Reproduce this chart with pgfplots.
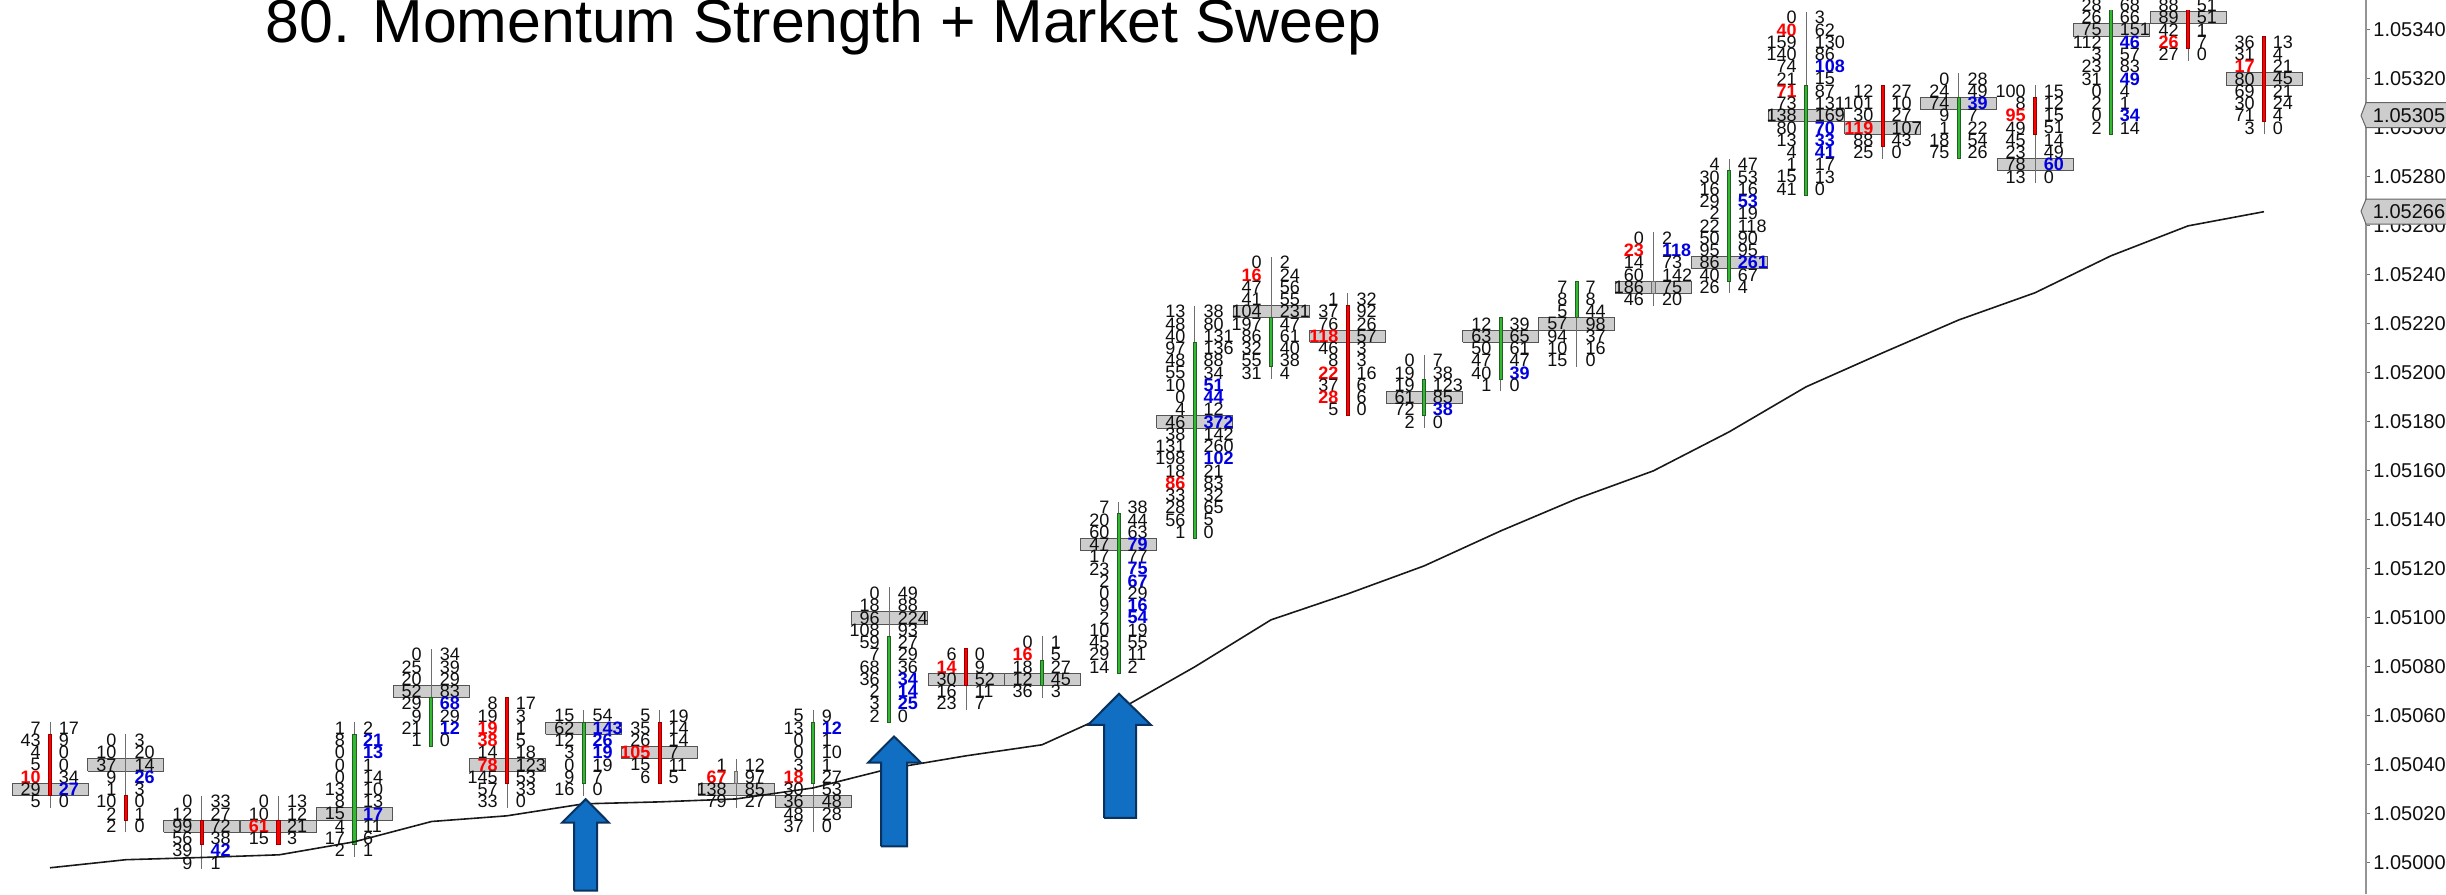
\documentclass[border=0pt]{standalone}
\usepackage{fontspec}
\setmainfont{Liberation Sans}
\usepackage{pgfplots}
\usepackage{pgfplotstable}
\pgfplotsset{compat=1.18}
\definecolor{cgrn}{RGB}{50,185,50}
\definecolor{cgrnb}{RGB}{35,95,35}
\definecolor{cred}{RGB}{255,0,0}
\definecolor{credb}{RGB}{150,0,0}
\definecolor{cdoj}{RGB}{190,190,190}
\definecolor{cdojb}{RGB}{110,110,110}
\definecolor{cpoc}{RGB}{205,205,205}
\definecolor{cpocb}{RGB}{85,85,85}
\definecolor{cwick}{RGB}{110,110,110}
\definecolor{carrow}{RGB}{16,110,195}
\definecolor{carrowb}{RGB}{10,50,95}
\definecolor{ctxt}{RGB}{15,15,15}
\protected\def\R#1{\textcolor{red}{\bfseries #1}}
\protected\def\B#1{\textcolor[RGB]{0,0,225}{\bfseries #1}}
\pgfplotstableread{
x y l r
50 1.05055 7 17
50 1.05050 43 9
50 1.05045 4 0
50 1.05040 5 0
50 1.05035 \R{10} 34
50 1.05030 29 \B{27}
50 1.05025 5 0
125.7 1.05050 0 3
125.7 1.05045 10 20
125.7 1.05040 37 14
125.7 1.05035 9 \B{26}
125.7 1.05030 1 3
125.7 1.05025 10 0
125.7 1.05020 2 1
125.7 1.05015 2 0
201.7 1.05025 0 33
201.7 1.05020 12 27
201.7 1.05015 99 72
201.7 1.05010 56 38
201.7 1.05005 39 \B{42}
201.7 1.05000 9 1
278.3 1.05025 0 13
278.3 1.05020 10 12
278.3 1.05015 \R{61} 21
278.3 1.05010 15 3
354.3 1.05055 1 2
354.3 1.05050 8 \B{21}
354.3 1.05045 0 \B{13}
354.3 1.05040 0 1
354.3 1.05035 0 14
354.3 1.05030 13 10
354.3 1.05025 8 13
354.3 1.05020 15 \B{17}
354.3 1.05015 4 11
354.3 1.05010 17 6
354.3 1.05005 2 1
431 1.05085 0 34
431 1.05080 25 39
431 1.05075 20 29
431 1.05070 52 83
431 1.05065 29 \B{68}
431 1.05060 9 29
431 1.05055 21 \B{12}
431 1.05050 1 0
507 1.05065 8 17
507 1.05060 19 3
507 1.05055 \R{19} 1
507 1.05050 \R{38} 5
507 1.05045 14 18
507 1.05040 \R{78} 123
507 1.05035 145 53
507 1.05030 57 33
507 1.05025 33 0
583.7 1.05060 15 54
583.7 1.05055 62 \B{143}
583.7 1.05050 12 \B{26}
583.7 1.05045 3 \B{19}
583.7 1.05040 0 19
583.7 1.05035 9 7
583.7 1.05030 16 0
659.7 1.05060 5 19
659.7 1.05055 35 14
659.7 1.05050 26 14
659.7 1.05045 \R{105} 7
659.7 1.05040 15 11
659.7 1.05035 6 5
736 1.05040 1 12
736 1.05035 \R{67} 97
736 1.05030 138 85
736 1.05025 79 27
813 1.05060 5 9
813 1.05055 13 \B{12}
813 1.05050 0 1
813 1.05045 0 10
813 1.05040 3 1
813 1.05035 \R{18} 27
813 1.05030 30 53
813 1.05025 36 48
813 1.05020 48 28
813 1.05015 37 0
889 1.05110 0 49
889 1.05105 18 88
889 1.05100 96 224
889 1.05095 108 93
889 1.05090 59 27
889 1.05085 7 29
889 1.05080 68 36
889 1.05075 36 \B{34}
889 1.05070 2 \B{14}
889 1.05065 3 \B{25}
889 1.05060 2 0
966 1.05085 6 0
966 1.05080 \R{14} 9
966 1.05075 30 52
966 1.05070 16 11
966 1.05065 23 7
1042 1.05090 0 1
1042 1.05085 \R{16} 5
1042 1.05080 18 27
1042 1.05075 12 45
1042 1.05070 36 3
1118.7 1.05145 7 38
1118.7 1.05140 20 44
1118.7 1.05135 60 63
1118.7 1.05130 47 \B{79}
1118.7 1.05125 17 77
1118.7 1.05120 23 \B{75}
1118.7 1.05115 2 \B{67}
1118.7 1.05110 0 29
1118.7 1.05105 9 \B{16}
1118.7 1.05100 2 \B{54}
1118.7 1.05095 10 19
1118.7 1.05090 45 55
1118.7 1.05085 29 11
1118.7 1.05080 14 2
1194.7 1.05225 13 38
1194.7 1.05220 48 80
1194.7 1.05215 40 131
1194.7 1.05210 97 136
1194.7 1.05205 48 88
1194.7 1.05200 55 34
1194.7 1.05195 10 \B{51}
1194.7 1.05190 0 \B{44}
1194.7 1.05185 4 12
1194.7 1.05180 46 \B{372}
1194.7 1.05175 38 142
1194.7 1.05170 131 260
1194.7 1.05165 198 \B{102}
1194.7 1.05160 18 21
1194.7 1.05155 \R{86} 83
1194.7 1.05150 33 32
1194.7 1.05145 28 65
1194.7 1.05140 56 5
1194.7 1.05135 1 0
1271 1.05245 0 2
1271 1.05240 \R{16} 24
1271 1.05235 47 56
1271 1.05230 41 55
1271 1.05225 104 231
1271 1.05220 197 47
1271 1.05215 86 61
1271 1.05210 32 40
1271 1.05205 55 38
1271 1.05200 31 4
1347.7 1.05230 1 32
1347.7 1.05225 37 92
1347.7 1.05220 76 26
1347.7 1.05215 \R{118} 57
1347.7 1.05210 46 3
1347.7 1.05205 8 3
1347.7 1.05200 \R{22} 16
1347.7 1.05195 37 6
1347.7 1.05190 \R{28} 6
1347.7 1.05185 5 0
1424 1.05205 0 7
1424 1.05200 19 38
1424 1.05195 19 123
1424 1.05190 61 85
1424 1.05185 72 \B{38}
1424 1.05180 2 0
1500.7 1.05220 12 39
1500.7 1.05215 63 65
1500.7 1.05210 50 61
1500.7 1.05205 47 47
1500.7 1.05200 40 \B{39}
1500.7 1.05195 1 0
1576.7 1.05235 7 7
1576.7 1.05230 8 8
1576.7 1.05225 5 44
1576.7 1.05220 57 98
1576.7 1.05215 94 37
1576.7 1.05210 10 16
1576.7 1.05205 15 0
1653.3 1.05255 0 2
1653.3 1.05250 \R{23} \B{118}
1653.3 1.05245 14 73
1653.3 1.05240 60 142
1653.3 1.05235 186 75
1653.3 1.05230 46 20
1729 1.05285 4 47
1729 1.05280 30 53
1729 1.05275 16 16
1729 1.05270 29 \B{53}
1729 1.05265 2 19
1729 1.05260 22 118
1729 1.05255 50 90
1729 1.05250 95 95
1729 1.05245 86 \B{261}
1729 1.05240 40 67
1729 1.05235 26 4
1806 1.05345 0 3
1806 1.05340 \R{40} 62
1806 1.05335 159 130
1806 1.05330 140 86
1806 1.05325 74 \B{108}
1806 1.05320 21 15
1806 1.05315 \R{71} 87
1806 1.05310 73 131
1806 1.05305 138 169
1806 1.05300 80 \B{70}
1806 1.05295 13 \B{33}
1806 1.05290 4 \B{41}
1806 1.05285 1 17
1806 1.05280 15 13
1806 1.05275 41 0
1882.7 1.05315 12 27
1882.7 1.05310 101 10
1882.7 1.05305 30 27
1882.7 1.05300 \R{119} 107
1882.7 1.05295 88 43
1882.7 1.05290 25 0
1958.7 1.05320 0 28
1958.7 1.05315 24 49
1958.7 1.05310 74 \B{39}
1958.7 1.05305 9 7
1958.7 1.05300 1 22
1958.7 1.05295 18 54
1958.7 1.05290 75 26
2035 1.05315 100 15
2035 1.05310 8 12
2035 1.05305 \R{95} 15
2035 1.05300 49 51
2035 1.05295 45 14
2035 1.05290 23 49
2035 1.05285 78 \B{60}
2035 1.05280 13 0
2111 1.05350 28 68
2111 1.05345 26 66
2111 1.05340 75 151
2111 1.05335 112 \B{46}
2111 1.05330 3 57
2111 1.05325 23 83
2111 1.05320 31 \B{49}
2111 1.05315 0 4
2111 1.05310 2 1
2111 1.05305 0 \B{34}
2111 1.05300 2 14
2188 1.05350 88 51
2188 1.05345 89 51
2188 1.05340 42 1
2188 1.05335 \R{26} 7
2188 1.05330 27 0
2264 1.05335 36 13
2264 1.05330 31 4
2264 1.05325 \R{17} 21
2264 1.05320 80 45
2264 1.05315 69 21
2264 1.05310 30 24
2264 1.05305 71 4
2264 1.05300 3 0
}\fpdata
% x, wick low, wick high, body low, body high, POC low, POC high, fill, border
\newcommand\FP[9]{%
  \addplot[draw=cpocb,fill=cpoc,line width=0.5pt,mark=none] coordinates {({#1-38},#6)({#1+38},#6)({#1+38},#7)({#1-38},#7)({#1-38},#6)};
  \addplot[draw=cwick,line width=0.5pt,mark=none] coordinates {(#1,#2)(#1,#3)};
  \addplot[draw=#9,fill=#8,line width=0.4pt,mark=none] coordinates {({#1-1.7},#4)({#1+1.7},#4)({#1+1.7},#5)({#1-1.7},#5)({#1-1.7},#4)};
}
\begin{document}
\begin{tikzpicture}
\begin{axis}[
  at={(0,0)},anchor=south west,
  set layers,
  clip=false,
  scale only axis,width=1183pt,height=447pt,
  xmin=0,xmax=2366,ymin=1.049873,ymax=1.053522,
  hide x axis,
  axis y line*=right,
  axis line style={draw=black!42,line width=1pt},
  ytick={1.05000,1.05020,1.05040,1.05060,1.05080,1.05100,1.05120,1.05140,1.05160,1.05180,1.05200,1.05220,1.05240,1.05260,1.05280,1.05300,1.05320,1.05340},
  tick align=outside,
  major tick length=2pt,
  tick style={draw=black!55,line width=0.5pt},
  yticklabel style={/pgf/number format/fixed,/pgf/number format/fixed zerofill,/pgf/number format/precision=5,/pgf/number format/assume math mode=true,font=\fontsize{10}{10}\selectfont,text=ctxt,inner sep=0pt,anchor=west,xshift=1.5pt},
  scaled y ticks=false,
]
\FP{50}{1.050225}{1.050575}{1.050275}{1.050525}{1.050275}{1.050325}{cred}{credb}
\FP{125.7}{1.050125}{1.050525}{1.050175}{1.050275}{1.050375}{1.050425}{cred}{credb}
\FP{201.7}{1.049975}{1.050275}{1.050075}{1.050175}{1.050125}{1.050175}{cred}{credb}
\FP{278.3}{1.050075}{1.050275}{1.050075}{1.050175}{1.050125}{1.050175}{cred}{credb}
\FP{354.3}{1.050025}{1.050575}{1.050075}{1.050525}{1.050175}{1.050225}{cgrn}{cgrnb}
\FP{431}{1.050475}{1.050875}{1.050475}{1.050675}{1.050675}{1.050725}{cgrn}{cgrnb}
\FP{507}{1.050225}{1.050675}{1.050325}{1.050675}{1.050375}{1.050425}{cred}{credb}
\FP{583.7}{1.050275}{1.050625}{1.050325}{1.050575}{1.050525}{1.050575}{cgrn}{cgrnb}
\FP{659.7}{1.050325}{1.050625}{1.050325}{1.050575}{1.050425}{1.050475}{cred}{credb}
\FP{736}{1.050225}{1.050425}{1.050325}{1.050375}{1.050275}{1.050325}{cdoj}{cdojb}
\FP{813}{1.050125}{1.050625}{1.050325}{1.050575}{1.050225}{1.050275}{cgrn}{cgrnb}
\FP{889}{1.050575}{1.051125}{1.050575}{1.050925}{1.050975}{1.051025}{cgrn}{cgrnb}
\FP{966}{1.050625}{1.050875}{1.050725}{1.050875}{1.050725}{1.050775}{cred}{credb}
\FP{1042}{1.050675}{1.050925}{1.050725}{1.050825}{1.050725}{1.050775}{cgrn}{cgrnb}
\FP{1118.7}{1.050775}{1.051475}{1.050775}{1.051425}{1.051275}{1.051325}{cgrn}{cgrnb}
\FP{1194.7}{1.051325}{1.052275}{1.051325}{1.052125}{1.051775}{1.051825}{cgrn}{cgrnb}
\FP{1271}{1.051975}{1.052475}{1.052025}{1.052225}{1.052225}{1.052275}{cgrn}{cgrnb}
\FP{1347.7}{1.051825}{1.052325}{1.051825}{1.052275}{1.052125}{1.052175}{cred}{credb}
\FP{1424}{1.051775}{1.052075}{1.051825}{1.051975}{1.051875}{1.051925}{cgrn}{cgrnb}
\FP{1500.7}{1.051925}{1.052225}{1.051975}{1.052225}{1.052125}{1.052175}{cgrn}{cgrnb}
\FP{1576.7}{1.052025}{1.052375}{1.052225}{1.052375}{1.052175}{1.052225}{cgrn}{cgrnb}
\FP{1653.3}{1.052275}{1.052575}{1.052325}{1.052375}{1.052325}{1.052375}{cdoj}{cdojb}
\FP{1729}{1.052325}{1.052875}{1.052375}{1.052825}{1.052425}{1.052475}{cgrn}{cgrnb}
\FP{1806}{1.052725}{1.053475}{1.052725}{1.053175}{1.053025}{1.053075}{cgrn}{cgrnb}
\FP{1882.7}{1.052875}{1.053175}{1.052925}{1.053175}{1.052975}{1.053025}{cred}{credb}
\FP{1958.7}{1.052875}{1.053225}{1.052875}{1.053125}{1.053075}{1.053125}{cgrn}{cgrnb}
\FP{2035}{1.052775}{1.053175}{1.052975}{1.053125}{1.052825}{1.052875}{cred}{credb}
\FP{2111}{1.052975}{1.053482}{1.052975}{1.053482}{1.053375}{1.053425}{cgrn}{cgrnb}
\FP{2188}{1.053275}{1.053482}{1.053325}{1.053482}{1.053425}{1.053475}{cred}{credb}
\FP{2264}{1.052975}{1.053375}{1.053025}{1.053375}{1.053175}{1.053225}{cred}{credb}
% bid numbers
\addplot[only marks,mark=none,point meta=explicit symbolic,nodes near coords,
  nodes near coords style={anchor=east,inner sep=0pt,xshift=-4.5pt,yshift=0pt,text=ctxt,font=\fontsize{9}{9}\selectfont}]
  table[x=x,y=y,meta=l]{\fpdata};
% ask numbers
\addplot[only marks,mark=none,point meta=explicit symbolic,nodes near coords,
  nodes near coords style={anchor=west,inner sep=0pt,xshift=4.2pt,yshift=0pt,text=ctxt,font=\fontsize{9}{9}\selectfont}]
  table[x=x,y=y,meta=r]{\fpdata};
% clipped top edge of the last bars
\addplot[draw=none,fill=white,mark=none] coordinates {(2070,1.053482)(2240,1.053482)(2240,1.05356)(2070,1.05356)};
% moving average
\addplot[draw=black!90,line width=0.8pt,mark=none] coordinates {
(50,1.04998)(126,1.050013)(201.7,1.050022)(279.3,1.050033)(354.3,1.050086)(431.7,1.050169)(506.7,1.050192)(583.7,1.050241)(659.7,1.050249)(736,1.050261)(813,1.050306)(889,1.050384)(966,1.050437)(1042,1.050482)(1118.7,1.050624)(1194.7,1.0508)(1271,1.050992)(1347.7,1.051098)(1424,1.051212)(1500.7,1.051355)(1576.7,1.051486)(1653.3,1.0516)(1729,1.051759)(1806,1.051943)(1882.7,1.052082)(1958.7,1.052216)(2035,1.052327)(2111,1.052478)(2188,1.0526)(2264,1.052658)};
% arrows
\addplot[draw=carrowb,fill=carrow,line width=1pt,mark=none] coordinates {(574,1.049887)(574,1.050164)(562,1.050164)(585.7,1.05026)(609,1.050164)(597,1.050164)(597,1.049887)(574,1.049887)};
\addplot[draw=carrowb,fill=carrow,line width=1pt,mark=none] coordinates {(881,1.050067)(881,1.050409)(868,1.050409)(894,1.050516)(921,1.050409)(907,1.050409)(907,1.050067)(881,1.050067)};
\addplot[draw=carrowb,fill=carrow,line width=1pt,mark=none] coordinates {(1104,1.050184)(1104,1.050563)(1088,1.050563)(1119,1.05069)(1151,1.050563)(1136,1.050563)(1136,1.050184)(1104,1.050184)};
% price callouts
\addplot[draw=black!60,fill=cpoc,line width=0.5pt,mark=none] coordinates {(2361,1.05305)(2366,1.053103)(2450,1.053103)(2450,1.053001)(2366,1.053001)(2361,1.05305)};
\addplot[draw=black!60,fill=cpoc,line width=0.5pt,mark=none] coordinates {(2361,1.05266)(2366,1.052709)(2450,1.052709)(2450,1.052607)(2366,1.052607)(2361,1.05266)};
\addplot[only marks,mark=none,point meta=explicit symbolic,nodes near coords,
  nodes near coords style={anchor=west,inner sep=0pt,text=ctxt,font=\fontsize{10}{10}\selectfont}]
  coordinates {(2372.5,1.05305)[1.05305] (2372.5,1.05266)[1.05266]};
\node[anchor=base west,inner sep=0pt,font=\fontsize{30.4}{30.4}\selectfont] at (axis cs:265,1.05335) {80. Momentum Strength + Market Sweep};
\end{axis}
\pgfresetboundingbox
\useasboundingbox (0,0) rectangle (1223pt,447pt);
\end{tikzpicture}
\end{document}
